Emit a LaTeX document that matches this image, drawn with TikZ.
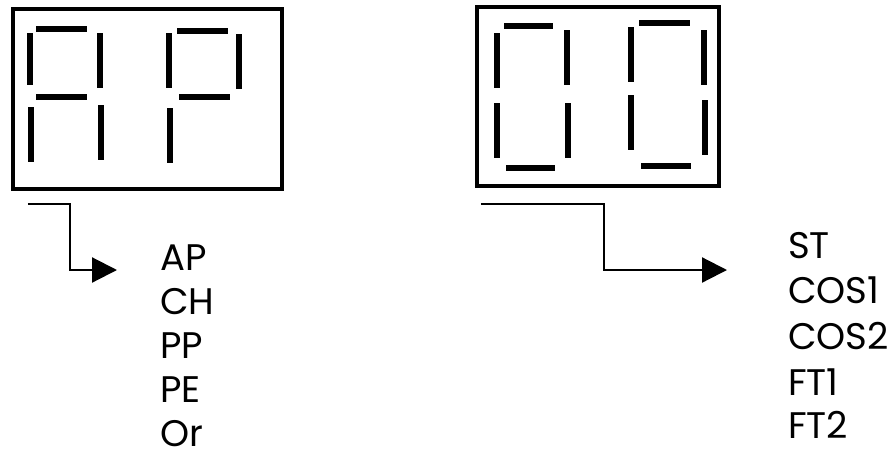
\documentclass[tikz,border=0pt]{standalone}
\usepackage{fontspec}
\setmainfont{Poppins}
\usepackage{tikz}
\usetikzlibrary{positioning,arrows.meta,fit,calc}

\begin{document}
\begin{tikzpicture}[x=1pt, y=-1pt,
    every node/.style={font=\fontsize{37}{37}\selectfont},
    box/.style={draw, line width=4.5pt, inner sep=0pt},
    seg/.style={line width=5.5pt, line cap=butt},
    lbl/.style={anchor=base west, inner sep=0pt},
    arr/.style={-{Triangle[length=25pt, width=25pt]}, line width=2.2pt}]
  \useasboundingbox (0,0) rectangle (888,453);
  % displays
  \node[box, fit={(13,9) (282,189)}]   (disp1) {};
  \node[box, fit={(477,7) (719,186)}]  (disp2) {};
  % A
  \draw[seg] (36,29) -- (87,29);
  \draw[seg] (30,33) -- (30,85);
  \draw[seg] (100,33) -- (100,88);
  \draw[seg] (36,97) -- (87,97);
  \draw[seg] (31,107) -- (31,162);
  \draw[seg] (101,105) -- (101,160);
  % P
  \draw[seg] (177,31) -- (228,31);
  \draw[seg] (169,33) -- (169,88);
  \draw[seg] (239,34) -- (239,89);
  \draw[seg] (179,97) -- (230,97);
  \draw[seg] (170,108) -- (170,163);
  % 0 0
  \draw[seg] (504,26) -- (553,26);
  \draw[seg] (497,33) -- (497,88);
  \draw[seg] (567,30) -- (567,85);
  \draw[seg] (497,103) -- (497,158);
  \draw[seg] (568,103) -- (568,158);
  \draw[seg] (506,168) -- (555,168);
  \draw[seg] (639,23) -- (690,23);
  \draw[seg] (631,27) -- (631,82);
  \draw[seg] (704,30) -- (704,85);
  \draw[seg] (631,95) -- (631,150);
  \draw[seg] (705,100) -- (705,155);
  \draw[seg] (641,166) -- (691,166);
  % menu entries
  \node[lbl] (ap)   at (160,270) {AP};
  \node[lbl] (ch)   at (160,314) {CH};
  \node[lbl] (pp)   at (160,358) {PP};
  \node[lbl] (pe)   at (160,402) {PE};
  \node[lbl] (or)   at (160,446) {Or};
  \node[lbl] (st)   at (788,258) {ST};
  \node[lbl] (cos1) at (788,303) {COS1};
  \node[lbl] (cos2) at (788,349) {COS2};
  \node[lbl] (ft1)  at (788,395) {FT1};
  \node[lbl] (ft2)  at (788,438) {FT2};
  \coordinate (out1) at ($(disp1.south west)+(17,13)$);
  \coordinate (in1)  at (117,270);
  \coordinate (out2) at ($(disp2.south west)+(6,16)$);
  \coordinate (in2)  at (727,270);
  \draw[arr] (out1) -- ++(42,0) |- (in1);
  \draw[arr] (out2) -- ++(123,0) |- (in2);
\end{tikzpicture}
\end{document}
